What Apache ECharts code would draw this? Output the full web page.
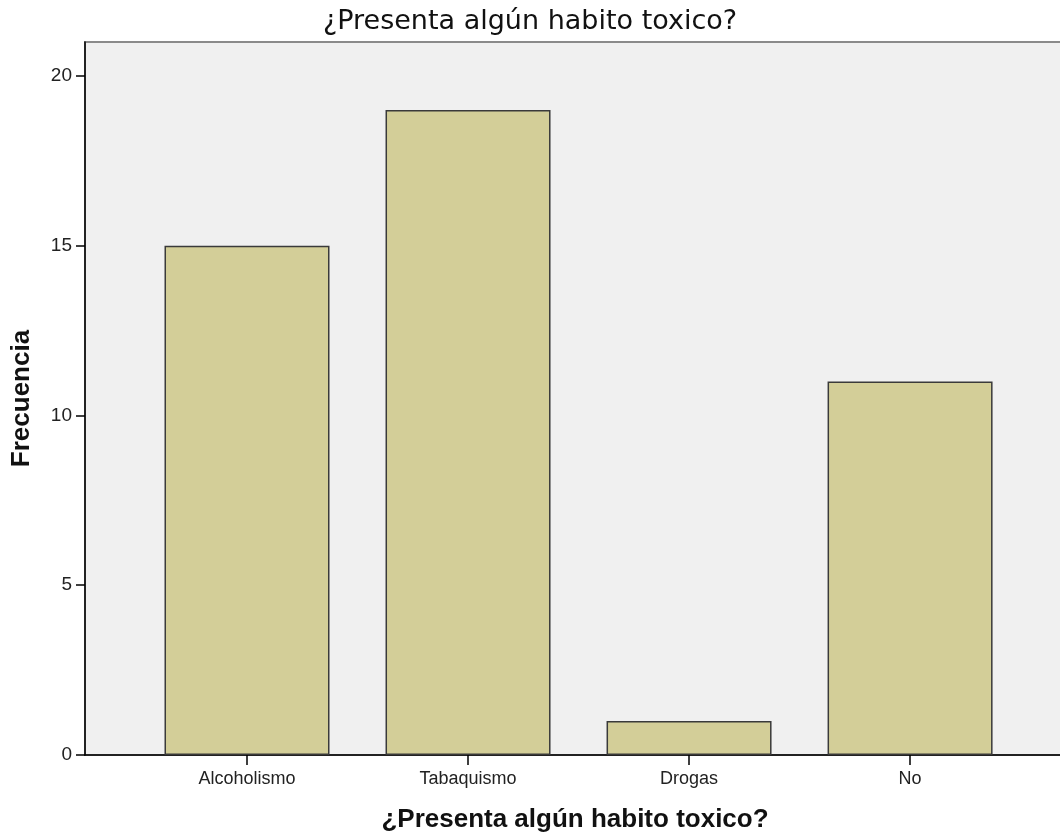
<!DOCTYPE html>
<html>
<head>
<meta charset="utf-8">
<script src="https://cdn.jsdelivr.net/npm/echarts@6/dist/echarts.min.js"></script>
<style>html,body{margin:0;padding:0;background:#fff}#c{width:1060px;height:837px}</style>
</head>
<body>
<div id="c"></div>
<script>
var categories = ['Alcoholismo', 'Tabaquismo', 'Drogas', 'No'];
var frequencies = [15, 19, 1, 11];
var yTicks = [0, 5, 10, 15, 20];
var titleText = '¿Presenta algún habito toxico?';
var yName = 'Frecuencia';

var chart = echarts.init(document.getElementById('c'), null, {renderer: 'canvas'});
var xPositions = categories.map(function (c, i) { return i; });
chart.setOption({
  animation: false,
  backgroundColor: '#ffffff',
  title: {
    text: titleText,
    left: 'center',
    top: 3,
    textStyle: {fontFamily: 'DejaVu Sans', fontSize: 27, fontWeight: 'normal', color: '#111'}
  },
  grid: {
    left: 85, right: -5, top: 42, bottom: 82,
    outerBoundsMode: 'none',
    containLabel: false,
    show: true, backgroundColor: '#f0f0f0', borderColor: '#8a8a8a', borderWidth: 2
  },
  xAxis: {
    type: 'value',
    min: -0.733, max: 3.701,
    name: titleText,
    nameLocation: 'middle',
    nameMoveOverlap: false,
    nameGap: 52,
    nameTextStyle: {fontFamily: 'Liberation Sans', fontSize: 26, fontWeight: 'bold', color: '#111'},
    axisLine: {show: true, onZero: false, lineStyle: {color: '#000', width: 1.5}},
    axisTick: {show: true, length: 10, customValues: xPositions, lineStyle: {color: '#000', width: 1.5}},
    axisLabel: {
      customValues: xPositions, margin: 15,
      fontFamily: 'Liberation Sans', fontSize: 18, color: '#222',
      formatter: function (v) { return categories[Math.round(v)]; }
    },
    splitLine: {show: false}
  },
  yAxis: {
    type: 'value',
    min: 0, max: 21,
    name: yName,
    nameLocation: 'middle',
    nameMoveOverlap: false,
    nameGap: 50,
    nameRotate: 90,
    nameTextStyle: {fontFamily: 'Liberation Sans', fontSize: 26, fontWeight: 'bold', color: '#111'},
    axisLine: {show: true, onZero: false, lineStyle: {color: '#000', width: 1.5}},
    axisTick: {show: true, length: 9, customValues: yTicks, lineStyle: {color: '#000', width: 1.5}},
    axisLabel: {customValues: yTicks, margin: 13, fontFamily: 'Liberation Sans', fontSize: 19, color: '#222'},
    splitLine: {show: false}
  },
  series: [{
    type: 'bar',
    barWidth: 165,
    data: categories.map(function (c, i) { return [i, frequencies[i]]; }),
    itemStyle: {color: '#d3ce98', borderColor: '#3a3a3a', borderWidth: 1.5}
  }]
});
</script>
</body>
</html>
